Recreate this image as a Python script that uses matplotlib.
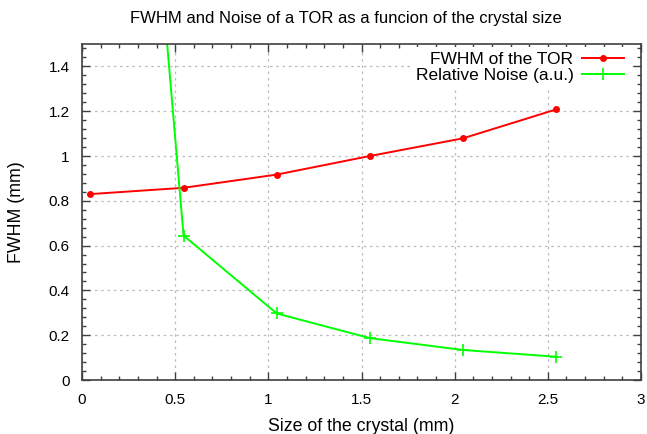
import numpy as np
import matplotlib.pyplot as plt
from matplotlib.ticker import MultipleLocator

plt.rcParams["font.family"] = ["Liberation Sans", "DejaVu Sans"]

# crystal sizes (mm)
crystal_size = [0.045, 0.545, 1.045, 1.545, 2.045, 2.545]

# FWHM of the TOR (mm)
fwhm = [0.83, 0.858, 0.917, 1.0, 1.079, 1.208]

# relative noise (a.u.), first value runs off the top of the plot
noise = [5.5, 0.645, 0.297, 0.187, 0.134, 0.104]

fig = plt.figure(figsize=(6.47, 4.34), dpi=100)
ax = fig.add_axes([82 / 647, 54 / 434, 559 / 647, 336 / 434])

ax.plot(crystal_size, fwhm, color="#ff0000", lw=1.4, marker="o",
        ms=4, mfc="#ff0000", mec="#ff0000", label="FWHM of the TOR")
ax.plot(crystal_size, noise, color="#00ff00", lw=1.4, marker="+",
        ms=8, mew=1.2, label="Relative Noise (a.u.)")

ax.set_xlim(0, 3)
ax.set_ylim(0, 1.5)
ax.xaxis.set_minor_locator(MultipleLocator(0.1))
ax.yaxis.set_minor_locator(MultipleLocator(0.04))
ax.set_xticks(np.arange(0, 3.01, 0.5))
ax.set_xticklabels(["0", "0.5", "1", "1.5", "2", "2.5", "3"])
ax.set_yticks(np.arange(0, 1.41, 0.2))
ax.set_yticklabels(["0", "0.2", "0.4", "0.6", "0.8", "1", "1.2", "1.4"])

ax.tick_params(which="both", direction="in", top=True, right=True,
               colors="#404040", labelcolor="black", labelsize=11)
ax.tick_params(which="major", length=6, width=1, pad=9)
ax.tick_params(which="minor", length=3, width=1)
for s in ax.spines.values():
    s.set_color("#404040")
    s.set_linewidth(1.2)

ax.grid(True, which="major", color="#bbbbbb", ls=(0, (2, 3)), lw=0.9)
ax.set_axisbelow(True)

leg = ax.legend(loc="upper right", bbox_to_anchor=(629 / 647, 1 - 47 / 434),
                bbox_transform=fig.transFigure, markerfirst=False,
                fontsize=12.5, handlelength=2.4, handletextpad=0.5,
                borderpad=0.3, labelspacing=0.05, borderaxespad=0,
                frameon=True, fancybox=False)
leg.get_frame().set_facecolor("white")
leg.get_frame().set_edgecolor("none")
leg.get_frame().set_alpha(1)

fig.text(346 / 647, 1 - 18 / 434, "FWHM and Noise of a TOR as a funcion of the crystal size",
         ha="center", va="center", fontsize=12)
fig.text(361 / 647, 1 - 431 / 434, "Size of the crystal (mm)",
         ha="center", va="baseline", fontsize=12.8)
fig.text(17 / 647, 1 - 212 / 434, "FWHM (mm)", rotation=90,
         ha="center", va="center", fontsize=12.8)

fig.savefig("out.png", dpi=100)
